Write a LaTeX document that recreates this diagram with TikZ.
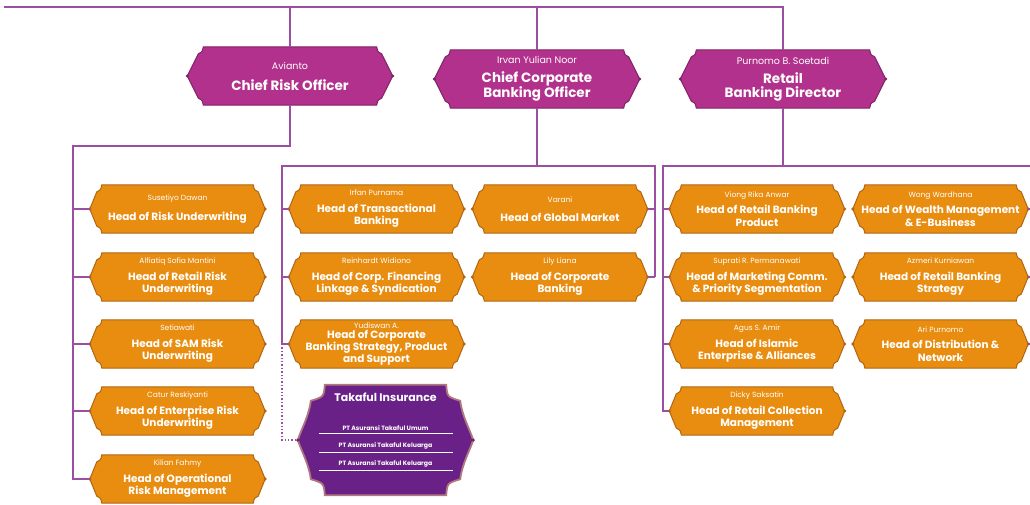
\documentclass[tikz,border=0pt]{standalone}
\usepackage{fontspec}
\setmainfont{Poppins}
\usetikzlibrary{calc,backgrounds}
\definecolor{mag}{HTML}{B2318C}
\definecolor{magd}{HTML}{7E2366}
\definecolor{org}{HTML}{E98D10}
\definecolor{orgd}{HTML}{B06614}
\definecolor{pur}{HTML}{6A2187}
\definecolor{purd}{HTML}{B0787E}
\definecolor{lnc}{HTML}{9C4FA0}
\newcommand\orn[4]{%
  \path[fill=#2,draw=#3,line width=1pt]
   ($(#1.north west)+(#4,0)$) -- ($(#1.north east)+(-#4,0)$)
   .. controls ($(#1.north east)+(-#4+1,5)$) .. ($(#1.north east)+(-#4+5,7)$)
   -- (#1.east)
   -- ($(#1.south east)+(-#4+5,-7)$)
   .. controls ($(#1.south east)+(-#4+1,-5)$) .. ($(#1.south east)+(-#4,0)$)
   -- ($(#1.south west)+(#4,0)$)
   .. controls ($(#1.south west)+(#4-1,-5)$) .. ($(#1.south west)+(#4-5,-7)$)
   -- (#1.west)
   -- ($(#1.north west)+(#4-5,7)$)
   .. controls ($(#1.north west)+(#4-1,5)$) .. cycle;
  \fill[#3] (#1.east) circle (1.7);
  \fill[#3] (#1.west) circle (1.7);}
\newcommand\nm[1]{{\fontsize{7.5}{9}\selectfont\mdseries #1}}
\newcommand\tnm[1]{{\fontsize{9.5}{11}\selectfont\mdseries #1}}
\begin{document}
\begin{tikzpicture}[x=1pt,y=-1pt,
  ln/.style={draw=lnc,line width=1.4pt},
  topbox/.style={rectangle,minimum width=205pt,minimum height=58pt,inner sep=0pt,align=center,text=white,font=\fontsize{13.5}{14}\selectfont\bfseries},
  ob/.style={rectangle,minimum width=175pt,minimum height=48pt,inner sep=0pt,align=center,text=white,font=\fontsize{10.5}{12.5}\selectfont\bfseries},
  tkl/.style={text=white,font=\fontsize{6.2}{7}\selectfont\bfseries,inner sep=0pt}]
\useasboundingbox (0,0) rectangle (1030,504);
% top boxes
\node[topbox] (cro) at (290,76) {\tnm{Avianto}\\[7pt] Chief Risk Officer};
\node[topbox] (ccbo) at (537,79) {\tnm{Irvan Yulian Noor}\\[5pt] Chief Corporate\\ Banking Officer};
\node[topbox] (rbd) at (783,79) {\tnm{Purnomo B. Soetadi}\\[5pt] Retail\\ Banking Director};
% left column
\node[ob] (l1) at (177.5,209) {\nm{Susetiyo Dawan}\\[7pt] Head of Risk Underwriting};
\node[ob] (l2) at (177.5,277) {\nm{Alfiatiq Sofia Mantini}\\[4pt] Head of Retail Risk\\ Underwriting};
\node[ob] (l3) at (177.5,344) {\nm{Setiawati}\\[4pt] Head of SAM Risk\\ Underwriting};
\node[ob] (l4) at (177.5,411) {\nm{Catur Reskiyanti}\\[4pt] Head of Enterprise Risk\\ Underwriting};
\node[ob] (l5) at (177.5,479) {\nm{Kilian Fahmy}\\[4pt] Head of Operational\\ Risk Management};
% middle
\node[ob] (m1) at (376.5,209) {\nm{Irfan Purnama}\\[4pt] Head of Transactional\\ Banking};
\node[ob] (m2) at (376.5,277) {\nm{Reinhardt Widiono}\\[4pt] Head of Corp. Financing\\ Linkage \& Syndication};
\node[ob,font=\fontsize{10.5}{10.5}\selectfont\bfseries] (m3) at (376.5,344) {\nm{Yudiswan A.}\\ Head of Corporate\\ Banking Strategy, Product\\ and Support};
\node[ob] (m4) at (560,209) {\nm{Varani}\\[7pt] Head of Global Market};
\node[ob] (m5) at (560,277) {\nm{Lily Liana}\\[4pt] Head of Corporate\\ Banking};
% right
\node[ob] (r1) at (757,209) {\nm{Viong Rika Anwar}\\[4pt] Head of Retail Banking\\ Product};
\node[ob] (r2) at (757,277) {\nm{Suprati R. Permanawati}\\[4pt] Head of Marketing Comm.\\ \& Priority Segmentation};
\node[ob] (r3) at (757,344) {\nm{Agus S. Amir}\\[4pt] Head of Islamic\\ Enterprise \& Alliances};
\node[ob] (r4) at (757,411) {\nm{Dicky Saksatin}\\[4pt] Head of Retail Collection\\ Management};
\node[ob] (r5) at (940.5,209) {\nm{Wong Wardhana}\\[4pt] Head of Wealth Management\\ \& E-Business};
\node[ob] (r6) at (940.5,277) {\nm{Azmeri Kurniawan}\\[4pt] Head of Retail Banking\\ Strategy};
\node[ob] (r7) at (940.5,344) {\nm{Ari Purnomo}\\[4pt] Head of Distribution \&\\ Network};
% takaful
\node[rectangle,minimum width=175pt,minimum height=110pt,inner sep=0pt] (tk) at (385.5,440) {};
\node[text=white,font=\fontsize{11}{12}\selectfont\bfseries,inner sep=0pt] (tkt) at (385.5,397) {Takaful Insurance};
\node[tkl] (tk1) at (385.5,428) {PT Asuransi Takaful Umum};
\node[tkl] (tk2) at (385.5,446) {PT Asuransi Takaful Keluarga};
\node[tkl] (tk3) at (385.5,464) {PT Asuransi Takaful Keluarga};
\foreach \t in {tk1,tk2,tk3}{\draw[white,line width=0.5pt] ($(\t.south)+(-67,2.5)$) -- ($(\t.south)+(67,2.5)$);}
% background shapes
\begin{scope}[on background layer]
\foreach \n in {cro,ccbo,rbd}{\orn{\n}{mag}{magd}{16}}
\foreach \n in {l1,l2,l3,l4,l5,m1,m2,m3,m4,m5,r1,r2,r3,r4,r5,r6,r7}{\orn{\n}{org}{orgd}{12}}
\path[fill=pur,draw=purd,line width=1.8pt]
  ($(tk.north west)+(27,0)$) -- ($(tk.north east)+(-27,0)$)
  .. controls ($(tk.north east)+(-26,12)$) .. ($(tk.north east)+(-13,16)$)
  .. controls ($(tk.north east)+(-11,32)$) and ($(tk.east)+(-3,-10)$) .. (tk.east)
  .. controls ($(tk.east)+(-3,10)$) and ($(tk.south east)+(-11,-32)$) .. ($(tk.south east)+(-13,-16)$)
  .. controls ($(tk.south east)+(-26,-12)$) .. ($(tk.south east)+(-27,0)$)
  -- ($(tk.south west)+(27,0)$)
  .. controls ($(tk.south west)+(26,-12)$) .. ($(tk.south west)+(13,-16)$)
  .. controls ($(tk.south west)+(11,-32)$) and ($(tk.west)+(3,10)$) .. (tk.west)
  .. controls ($(tk.west)+(3,-10)$) and ($(tk.north west)+(11,32)$) .. ($(tk.north west)+(13,16)$)
  .. controls ($(tk.north west)+(26,12)$) .. cycle;
\fill[magd] (tk.west) circle (1.8);
\fill[magd] (tk.east) circle (1.8);
\end{scope}
% connectors
\coordinate (tl) at (4,7);
\coordinate (lj) at (73,146);
\coordinate (mj) at (282,166);
\coordinate (mr) at (655,166);
\coordinate (rj) at (663,166);
\coordinate (re) at (1030,166);
\draw[ln] (tl) -- (tl -| rbd.north) -- (rbd.north);
\draw[ln] (tl -| cro.north) -- (cro.north);
\draw[ln] (tl -| ccbo.north) -- (ccbo.north);
% left tree
\draw[ln] (cro.south) -- (cro.south |- lj) -- (lj) -- (lj |- l5.west) -- (l5.west);
\foreach \n in {l1,l2,l3,l4}{\draw[ln] (lj |- \n.west) -- (\n.west);}
% middle tree
\draw[ln] (ccbo.south) -- (ccbo.south |- mj);
\draw[ln] (mr |- m5.east) -- (mr) -- (mj) -- (mj |- m3.west) -- (m3.west);
\foreach \n in {m1,m2}{\draw[ln] (mj |- \n.west) -- (\n.west);}
\draw[ln] (mr |- m4.east) -- (m4.east);
\draw[ln] (mr |- m5.east) -- (m5.east);
\draw[draw=lnc,line width=1.4pt,dotted] (mj |- m3.west) -- (mj |- tk.west) -- (tk.west);
% right tree
\draw[ln] (rbd.south) -- (rbd.south |- rj);
\draw[ln] (re) -- (rj) -- (rj |- r4.west) -- (r4.west);
\foreach \n in {r1,r2,r3}{\draw[ln] (rj |- \n.west) -- (\n.west);}
\foreach \n in {r5,r6,r7}{\draw[ln] (\n.east) -- (\n.east -| re);}
\end{tikzpicture}
\end{document}
